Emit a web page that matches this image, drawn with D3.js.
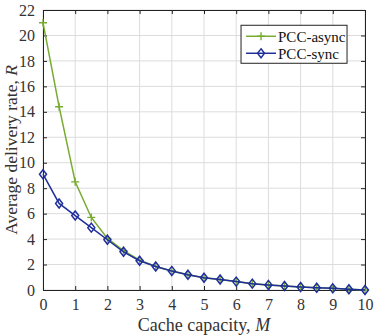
<!DOCTYPE html>
<html>
<head>
<meta charset="utf-8">
<script src="https://cdn.jsdelivr.net/npm/d3@7"></script>
<style>
  body { margin: 0; background: #fff; }
  svg text { font-family: "Liberation Serif", "Times New Roman", Times, "DejaVu Serif", serif !important; }
</style>
</head>
<body>
<svg id="chart"></svg>
<script>
(function() {

const margin = { top: 10, right: 14, bottom: 45, left: 43 };
const W = 379, H = 335;
const width = W - margin.left - margin.right;
const height = H - margin.top - margin.bottom;

// cache capacity M
const cacheM = [0, 0.5, 1, 1.5, 2, 2.5, 3, 3.5, 4, 4.5, 5, 5.5, 6, 6.5, 7, 7.5, 8, 8.5, 9, 9.5, 10];
const asyncRate = [21.0, 14.4, 8.5, 5.7, 4.05, 3.1, 2.35, 1.85, 1.5, 1.2, 0.96, 0.82, 0.66, 0.5, 0.4, 0.32, 0.24, 0.18, 0.13, 0.06, 0];
const syncRate  = [9.1, 6.8, 5.85, 4.9, 3.95, 3.0, 2.3, 1.85, 1.5, 1.2, 0.96, 0.82, 0.66, 0.5, 0.4, 0.32, 0.24, 0.18, 0.13, 0.06, 0];
const xTicks = d3.range(0, 11, 1);
const yTicks = d3.range(0, 23, 2);

const green = "#77ac30";
const blue = "#1f2f9a";

const svg = d3.select("#chart")
    .attr("width", W)
    .attr("height", H)
  .append("g")
    .attr("transform", `translate(${margin.left},${margin.top})`);

const x = d3.scaleLinear().domain([0, 10]).range([0, width]);
const y = d3.scaleLinear().domain([0, 22]).range([height, 0]);

// grid
svg.append("g").selectAll("line")
    .data(xTicks).enter().append("line")
    .attr("x1", d => x(d)).attr("x2", d => x(d))
    .attr("y1", 0).attr("y2", height)
    .attr("stroke", "#dcdcdc").attr("stroke-width", 1);
svg.append("g").selectAll("line")
    .data(yTicks).enter().append("line")
    .attr("x1", 0).attr("x2", width)
    .attr("y1", d => y(d)).attr("y2", d => y(d))
    .attr("stroke", "#dcdcdc").attr("stroke-width", 1);

// axes (inward ticks, MATLAB style)
const xAxis = svg.append("g")
    .attr("transform", `translate(0,${height})`)
    .call(d3.axisBottom(x).tickValues(xTicks).tickSize(-4).tickPadding(9).tickFormat(d3.format("d")));
const yAxis = svg.append("g")
    .call(d3.axisLeft(y).tickValues(yTicks).tickSize(-4).tickPadding(8).tickFormat(d3.format("d")));
svg.append("g")
    .attr("transform", `translate(${width},0)`)
    .call(d3.axisRight(y).tickValues(yTicks).tickSize(-4).tickFormat(""));
svg.append("g")
    .call(d3.axisTop(x).tickValues(xTicks).tickSize(-4).tickFormat(""));

svg.selectAll(".domain").attr("stroke", "#222").attr("stroke-width", 1);
svg.selectAll(".tick line").attr("stroke", "#222");
[xAxis, yAxis].forEach(a => a.selectAll("text")
    .style("font-size", "16px").attr("fill", "#333"));

// series
const line = d3.line().x(d => x(d[0])).y(d => y(d[1]));
const asyncPts = cacheM.map((m, i) => [m, asyncRate[i]]);
const syncPts = cacheM.map((m, i) => [m, syncRate[i]]);

svg.append("path").datum(asyncPts)
    .attr("d", line).attr("fill", "none")
    .attr("stroke", green).attr("stroke-width", 1.5);
svg.append("g").selectAll("path")
    .data(asyncPts).enter().append("path")
    .attr("transform", d => `translate(${x(d[0])},${y(d[1])})`)
    .attr("d", "M-4,0H4M0,-4V4")
    .attr("stroke", green).attr("stroke-width", 1.3);

svg.append("path").datum(syncPts)
    .attr("d", line).attr("fill", "none")
    .attr("stroke", blue).attr("stroke-width", 1.5);
svg.append("g").selectAll("path")
    .data(syncPts).enter().append("path")
    .attr("transform", d => `translate(${x(d[0])},${y(d[1])})`)
    .attr("d", "M0,-4.5L3.5,0L0,4.5L-3.5,0Z")
    .attr("fill", "none")
    .attr("stroke", blue).attr("stroke-width", 1.5);

// legend
const legend = svg.append("g").attr("transform", `translate(${x(6.15)},${y(20.8)})`);
legend.append("rect")
    .attr("width", 106).attr("height", 38)
    .attr("fill", "#fff").attr("stroke", "#222").attr("stroke-width", 1);
const items = [["PCC-async", green, "M-4,0H4M0,-4V4", "none"], ["PCC-sync", blue, "M0,-4.5L3.5,0L0,4.5L-3.5,0Z", "none"]];
items.forEach((it, i) => {
  const g = legend.append("g").attr("transform", `translate(0,${11 + i * 17})`);
  g.append("line").attr("x1", 5).attr("x2", 35).attr("stroke", it[1]).attr("stroke-width", 1.5);
  g.append("path").attr("transform", "translate(20,0)").attr("d", it[2])
    .attr("fill", it[3]).attr("stroke", it[1]).attr("stroke-width", 1.4);
  g.append("text").attr("x", 37).attr("dy", "0.35em")
    .style("font-size", "15px").attr("fill", "#111").text(it[0]);
});

// axis labels
const xl = svg.append("text")
    .attr("x", width / 2).attr("y", height + 41)
    .attr("text-anchor", "middle")
    .style("font-size", "18px").attr("fill", "#333");
xl.append("tspan").text("Cache capacity, ");
xl.append("tspan").style("font-style", "italic").text("M");

const yl = svg.append("text")
    .attr("transform", `translate(${-26},${height / 2}) rotate(-90)`)
    .attr("text-anchor", "middle")
    .style("font-size", "17.5px").attr("fill", "#333");
yl.append("tspan").text("Average delivery rate, ");
yl.append("tspan").style("font-style", "italic").text("R");

})();
</script>
</body>
</html>
